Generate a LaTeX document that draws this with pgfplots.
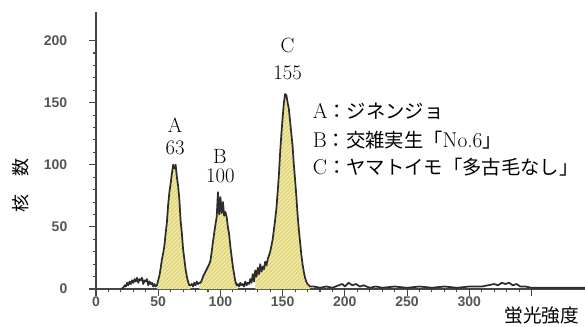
\documentclass[border=0pt]{standalone}
\usepackage{fontspec}
\usepackage{pgfplots}
\pgfplotsset{compat=1.18}
\usepackage{pgfplotstable}
\usetikzlibrary{patterns}
\newfontfamily\jp{Noto Sans CJK JP}
\newfontfamily\ticksf{Liberation Sans}
\definecolor{peakfill}{RGB}{240,232,160}
\definecolor{hatch}{RGB}{212,196,105}
\definecolor{curve}{RGB}{45,45,45}
\definecolor{axisc}{RGB}{70,70,70}
\definecolor{tickc}{RGB}{85,85,85}

\pgfplotstableread{
x y
20 0
22 1
23 3
24 2
25 5
26 3
27 6
28 4
29 7
30 5
31 8
32 6
33 9
34 5
35 8
36 7
37 9
38 4
39 7
40 6
41 8
42 3
43 6
44 4
45 5
46 2
47 4
48 2
49 3
50 7
51 11
52 17
53 24
54 29
55 35
56 45
57 54
58 68
59 78
60 85
61 93
62 100
63 97
64 100
65 90
66 83
67 72
68 55
69 45
70 32
71 24
72 16
73 10
74 6
75 3
76 3
77 4
78 2
79 5
80 3
81 6
82 4
83 5
84 5
85 7
86 10
87 12
88 14
89 16
90 18
91 20
92 23
93 30
94 38
95 45
96 52
97 58
98 78
99 60
100 74
101 61
102 70
103 59
104 62
105 58
106 50
107 44
108 34
109 26
110 18
111 12
112 6
113 3
114 4
115 2
116 5
117 3
118 4
119 2
120 6
121 3
122 5
123 4
124 8
125 5
126 12
127 6
128 15
129 10
130 17
131 12
132 20
133 14
134 18
135 16
136 22
137 19
138 24
139 27
140 30
141 35
142 40
143 48
144 56
145 65
146 78
147 92
148 110
149 125
150 138
151 150
152 157
153 156
154 150
155 145
156 135
157 125
158 115
159 100
160 88
161 75
162 60
163 48
164 38
165 28
166 20
167 14
168 9
169 6
170 4
171 3
172 2
175 2
180 1
185 2
190 1
195 3
198 4
200 2
203 5
206 3
209 4
212 2
215 3
220 1
225 2
230 1
240 2
250 1
260 2
270 1
280 2
290 1
300 2
310 2
315 3
320 4
323 3
326 5
329 4
332 5
335 3
338 4
341 2
345 2
350 1
360 1
370 1
380 1
393 1
}\spectrum

\begin{document}
\begin{tikzpicture}
\useasboundingbox (-72pt,-27.75pt) rectangle (366.75pt,216.75pt);
\begin{axis}[
  at={(0,0)}, anchor=origin,
  scale only axis,
  width=366.75pt, height=207.75pt,
  xmin=0, xmax=393, ymin=0, ymax=223,
  axis lines=left,
  axis line style={-, color=axisc, line width=0.9pt},
  xtick={0,50,...,350},
  xticklabels={0,50,100,150,200,250,300,},
  ytick={0,50,...,200},
  minor x tick num=4,
  minor y tick num=4,
  tick align=outside,
  major tick length=5pt,
  minor tick length=2.5pt,
  tick style={color=axisc, line width=0.8pt},
  /pgf/number format/assume math mode=true,
  ticklabel style={font=\ticksf\bfseries\fontsize{10.5}{12}\selectfont, color=tickc},
  yticklabel style={xshift=-13pt},
  xticklabel style={yshift=2.5pt},
  clip=false,
]
\addplot[draw=none, fill=peakfill, postaction={pattern=north east lines, pattern color=hatch}, restrict x to domain=49:76] table[x=x,y=y] {\spectrum} \closedcycle;
\addplot[draw=none, fill=peakfill, postaction={pattern=north east lines, pattern color=hatch}, restrict x to domain=83:114] table[x=x,y=y] {\spectrum} \closedcycle;
\addplot[draw=none, fill=peakfill, postaction={pattern=north east lines, pattern color=hatch}, restrict x to domain=128:173] table[x=x,y=y] {\spectrum} \closedcycle;
\addplot[curve, line width=1.3pt, line join=round] table[x=x,y=y] {\spectrum};

\node[font=\fontsize{15.5}{17}\selectfont] at (axis cs:63.5,132) {A};
\node[font=\fontsize{15.5}{17}\selectfont] at (axis cs:63.5,114) {63};
\node[font=\fontsize{15.5}{17}\selectfont] at (axis cs:99.6,107) {B};
\node[font=\fontsize{15.5}{17}\selectfont] at (axis cs:100,91) {100};
\node[font=\fontsize{15.5}{17}\selectfont] at (axis cs:154,196) {C};
\node[font=\fontsize{15.5}{17}\selectfont] at (axis cs:154,174) {155};

\node[anchor=west, inner sep=0pt, font=\fontsize{14.5}{16}\selectfont] at (axis cs:174,143) {{\fontsize{16}{17}\selectfont A}{\jp ：ジネンジョ}};
\node[anchor=west, inner sep=0pt, font=\fontsize{14.5}{16}\selectfont] at (axis cs:174,120) {{\fontsize{16}{17}\selectfont B}{\jp ：交雑実生「}{\fontsize{16}{17}\selectfont No.6}{\jp 」}};
\node[anchor=west, inner sep=0pt, font=\fontsize{14.5}{16}\selectfont] at (axis cs:174,98) {{\fontsize{16}{17}\selectfont C}{\jp ：ヤマトイモ「多古毛なし」}};

\node[rotate=90, font=\jp\fontsize{13.5}{15}\selectfont] at (rel axis cs:-0.155,0.375) {核　数};
\node[font=\jp\fontsize{14}{16}\selectfont] at (rel axis cs:0.912,-0.095) {蛍光強度};
\end{axis}
\end{tikzpicture}
\end{document}
